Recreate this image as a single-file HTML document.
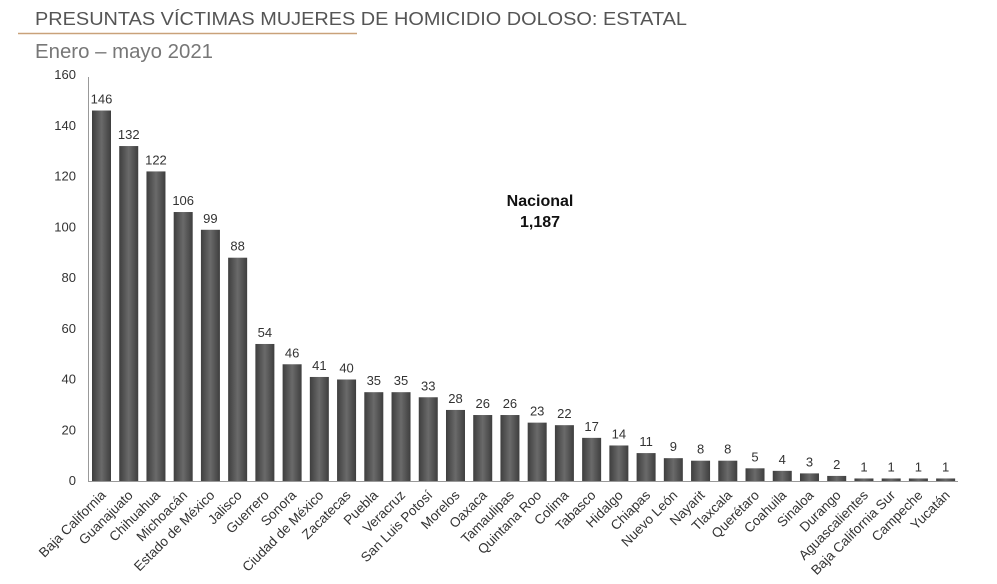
<!DOCTYPE html>
<html><head><meta charset="utf-8"><style>
body{margin:0;background:#fff;}
svg{display:block;font-family:"Liberation Sans",sans-serif;}
</style></head><body>
<svg width="997" height="584" viewBox="0 0 997 584">
<defs><linearGradient id="g" x1="0" x2="1" y1="0" y2="0">
<stop offset="0" stop-color="#3e3e3e"/><stop offset="0.5" stop-color="#6a6a6a"/><stop offset="1" stop-color="#3e3e3e"/></linearGradient></defs>
<text x="35" y="25" font-size="18.5" fill="#555" textLength="652" lengthAdjust="spacingAndGlyphs">PRESUNTAS VÍCTIMAS MUJERES DE HOMICIDIO DOLOSO: ESTATAL</text>
<line x1="18" y1="33.5" x2="357" y2="33.5" stroke="#c9a27a" stroke-width="1.5"/>
<text x="35" y="58" font-size="20" fill="#777" textLength="178" lengthAdjust="spacingAndGlyphs">Enero – mayo 2021</text>
<line x1="88.5" y1="77" x2="88.5" y2="481" stroke="#999"/>
<line x1="88" y1="481.5" x2="958" y2="481.5" stroke="#999"/>
<g font-size="13" fill="#333" text-anchor="end" id="yt"></g>
<g id="bars"></g>
<text x="540" y="206" font-size="16" font-weight="bold" fill="#111" text-anchor="middle">Nacional</text>
<text x="540" y="227" font-size="16" font-weight="bold" fill="#111" text-anchor="middle">1,187</text>
</svg>
<script>
var ns="http://www.w3.org/2000/svg";
function el(t,a,p,txt){var e=document.createElementNS(ns,t);for(var k in a)e.setAttribute(k,a[k]);if(txt!=null)e.textContent=txt;p.appendChild(e);return e;}
var yt=document.getElementById("yt");
for(var v=0;v<=160;v+=20){el("text",{x:76,y:481-v*2.5375+4},yt,v);}
var d=[["Baja California",146],["Guanajuato",132],["Chihuahua",122],["Michoacán",106],["Estado de México",99],["Jalisco",88],["Guerrero",54],["Sonora",46],["Ciudad de México",41],["Zacatecas",40],["Puebla",35],["Veracruz",35],["San Luis Potosí",33],["Morelos",28],["Oaxaca",26],["Tamaulipas",26],["Quintana Roo",23],["Colima",22],["Tabasco",17],["Hidalgo",14],["Chiapas",11],["Nuevo León",9],["Nayarit",8],["Tlaxcala",8],["Querétaro",5],["Coahuila",4],["Sinaloa",3],["Durango",2],["Aguascalientes",1],["Baja California Sur",1],["Campeche",1],["Yucatán",1]];
var b=document.getElementById("bars");
d.forEach(function(r,i){var cx=101.5+i*27.23,h=r[1]*2.5375;
el("rect",{x:cx-9.5,y:481-h,width:19,height:h,fill:"url(#g)"},b);
el("text",{x:cx,y:481-h-7,"font-size":13,fill:"#333","text-anchor":"middle"},b,r[1]);
el("text",{x:cx+5,y:496,"font-size":13.5,fill:"#333","text-anchor":"end",transform:"rotate(-45 "+(cx+5)+" 496)"},b,r[0]);});
</script>
</body></html>
